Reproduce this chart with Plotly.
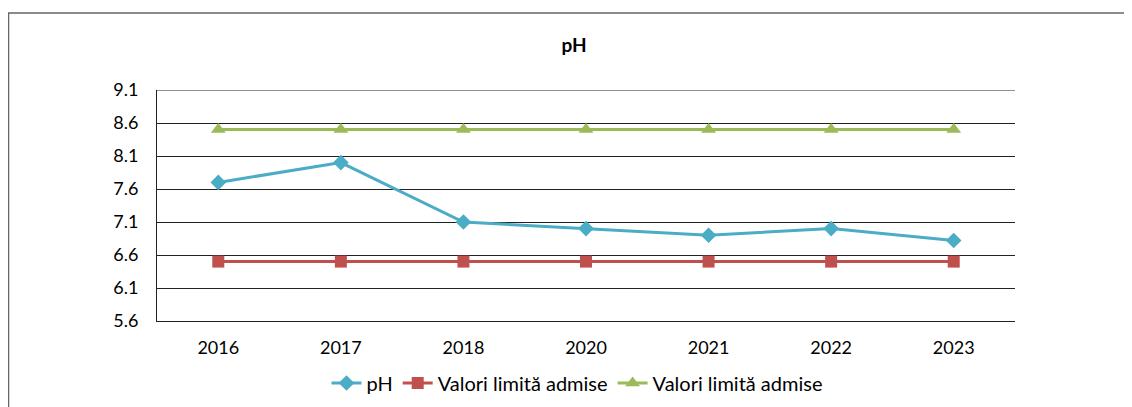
import plotly.graph_objects as go

years = ["2016", "2017", "2018", "2020", "2021", "2022", "2023"]
ph_values = [7.7, 8.0, 7.1, 7.0, 6.9, 7.0, 6.82]
limit_low = [6.5, 6.5, 6.5, 6.5, 6.5, 6.5, 6.5]
limit_high = [8.5, 8.5, 8.5, 8.5, 8.5, 8.5, 8.5]
y_ticks = [5.6, 6.1, 6.6, 7.1, 7.6, 8.1, 8.6, 9.1]

font_family = "Lato, 'Open Sans', sans-serif"

# page body has an 8px default margin, so the figure is 8px smaller each way
W, H = 1124, 399
L, T, R, B = 149, 82, 117, 86
PW, PH = W - L - R, H - T - B

fig = go.Figure()
fig.add_trace(go.Scatter(
    x=years, y=ph_values, name="pH", mode="lines+markers",
    line=dict(color="#4BACC6", width=3),
    marker=dict(symbol="diamond", size=12, color="#4BACC6"),
))
fig.add_trace(go.Scatter(
    x=years, y=limit_low, name="Valori limită admise", mode="lines+markers",
    line=dict(color="#C0504D", width=3),
    marker=dict(symbol="square", size=12, color="#C0504D"),
))
fig.add_trace(go.Scatter(
    x=years, y=limit_high, name="Valori limită admise", mode="lines+markers",
    line=dict(color="#9BBB59", width=3),
    marker=dict(symbol="triangle-up", size=13, color="#9BBB59"),
))

fig.update_layout(
    width=W, height=H,
    margin=dict(l=L, r=R, t=T, b=B, autoexpand=False),
    paper_bgcolor="white", plot_bgcolor="white",
    font=dict(family=font_family, size=18, color="#000000"),
    title=dict(text="<b>pH</b>", x=566 / W, xanchor="center", y=1 - 37 / H,
               yanchor="middle", yref="container",
               font=dict(family=font_family, size=19, color="#000000")),
    xaxis=dict(type="category", range=[-0.5, 6.5], showgrid=False,
               showline=True, linecolor="#222222", linewidth=1,
               ticks="", tickfont=dict(size=18), ticklabelstandoff=10),
    yaxis=dict(range=[5.6, 9.1], tickvals=y_ticks, tickformat=".1f",
               showgrid=True, gridcolor="#222222", gridwidth=1,
               showline=True, linecolor="#222222", linewidth=1,
               zeroline=False, ticks="", tickfont=dict(size=18),
               ticklabelstandoff=14),
    legend=dict(orientation="h", x=569 / W, xanchor="center", xref="container",
                y=1 - 375 / H, yanchor="middle", yref="container",
                font=dict(size=20), traceorder="normal"),
    showlegend=True,
    shapes=[
        dict(type="line", xref="paper", yref="y", x0=0, x1=1, y0=9.1, y1=9.1,
             line=dict(color="#222222", width=1)),
        dict(type="rect", xref="paper", yref="paper",
             x0=(0.5 - L) / PW, x1=(W + 10 - L) / PW,
             y0=-(H + 10 - (T + PH)) / PH, y1=1 + (T - 5) / PH,
             line=dict(color="#666666", width=1.5)),
    ],
)

fig.write_html("out.html")
